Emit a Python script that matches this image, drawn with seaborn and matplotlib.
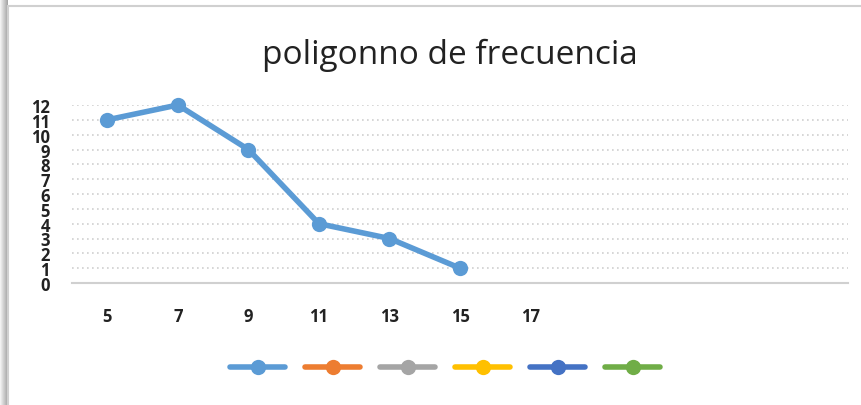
import numpy as np
import matplotlib
matplotlib.use("Agg")
import matplotlib.pyplot as plt
from matplotlib.lines import Line2D
from matplotlib.patches import Rectangle
import seaborn as sns
import pandas as pd

# ── Data ──────────────────────────────────────────────────────────────────────
class_marks = [5, 7, 9, 11, 13, 15, 17]
frequencies = [11, 12, 9, 4, 3, 1, np.nan]
y_ticks = list(range(0, 13))
title = "poligonno de frecuencia"
legend_colors = ["#5B9BD5", "#ED7D31", "#A5A5A5", "#FFC000", "#4472C4", "#70AD47"]

df = pd.DataFrame({"marca": class_marks, "frecuencia": frequencies})

sns.set_theme(style="white")
plt.rcParams["font.family"] = ["Open Sans", "DejaVu Sans"]

fig = plt.figure(figsize=(8.61, 4.06), dpi=100)
fig.patch.set_facecolor("white")

# chart frame with a soft shadow on the left
for i, a in enumerate(np.linspace(0.05, 0.35, 8)):
    fig.patches.append(Rectangle((i / 861, 0), 1 / 861, 1, transform=fig.transFigure,
                                 facecolor="black", alpha=a, edgecolor="none", zorder=0))
fig.patches.append(Rectangle((8 / 861, -0.01), 1.0, 1 - 7 / 406 + 0.01, transform=fig.transFigure,
                             facecolor="white", edgecolor="#D0D0D0", linewidth=1.5, zorder=1))

ax = fig.add_axes([72 / 861, 1 - 284 / 406, 776 / 861, 178 / 406])
ax.set_facecolor("none")
ax.set_zorder(2)

sns.lineplot(data=df, x="marca", y="frecuencia", ax=ax, color="#5B9BD5",
             linewidth=4, marker="o", markersize=11, markeredgewidth=0, clip_on=False)

ax.set_xlim(4, 26)
ax.set_ylim(0, 12)
ax.set_xticks(class_marks)
ax.set_xticklabels([str(v) for v in class_marks], fontsize=12, fontweight="bold", color="#222222")
ax.set_yticks(y_ticks)
ax.set_yticklabels([str(v) for v in y_ticks], fontsize=12, fontweight="bold", color="#222222")
ax.tick_params(axis="x", length=0, pad=17)
ax.tick_params(axis="y", length=0, pad=16)
ax.set_xlabel("")
ax.set_ylabel("")

ax.grid(axis="y", color="#D0D0D0", linestyle=(0, (1, 2)), linewidth=1.2)
ax.grid(axis="x", visible=False)
for s in ["top", "right", "left"]:
    ax.spines[s].set_visible(False)
ax.spines["bottom"].set_color("#D0D0D0")
ax.spines["bottom"].set_linewidth(1.5)

fig.text(450 / 861, 1 - 55 / 406, title, ha="center", va="center",
         fontsize=24, color="#222222")

handles = [Line2D([0], [0], color=c, linewidth=4, marker="o", markersize=11,
                  markeredgewidth=0, solid_capstyle="round") for c in legend_colors]
fig.legend(handles, [""] * len(handles), loc="center", bbox_to_anchor=(445 / 861, 1 - 369 / 406),
           ncol=6, frameon=False, handlelength=4.0, handletextpad=0.0, columnspacing=1.4,
           fontsize=10)

fig.savefig("out.png", dpi=100, facecolor="white")
